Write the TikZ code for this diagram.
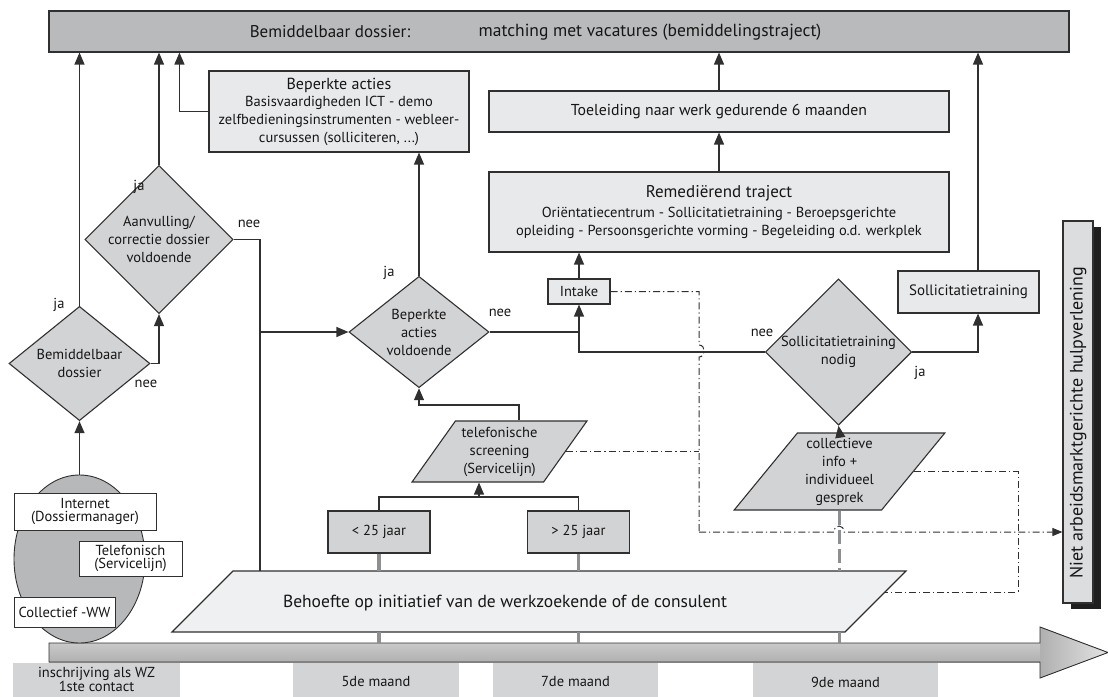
\documentclass[tikz,border=0pt]{standalone}
\usepackage{fontspec}
\setmainfont{PT Sans}
\usetikzlibrary{positioning,arrows.meta,shapes.geometric,shadows}

\definecolor{linecol}{HTML}{303030}
\definecolor{textcol}{HTML}{161616}
\definecolor{barfill}{HTML}{B9BABC}
\definecolor{lightfill}{HTML}{E8E9EB}
\definecolor{midfill}{HTML}{D2D3D5}
\definecolor{palefill}{HTML}{EFF0F1}
\definecolor{ellfill}{HTML}{B7B8BA}
\definecolor{monthfill}{HTML}{D3D4D6}
\definecolor{nietfill}{HTML}{DCDDDF}
\definecolor{tickcol}{HTML}{8E8F91}

\begin{document}
\begin{tikzpicture}[
  x=1pt, y=-1pt,
  font=\fontsize{14.5}{18}\selectfont,
  every node/.style={text=textcol},
  >={Triangle[width=10pt,length=12pt]},
  flow/.style={draw=linecol, line width=1.2pt},
  flowarrow/.style={->, draw=linecol, line width=1.2pt},
  dashdot/.style={draw=linecol, line width=1pt, dash pattern=on 7pt off 3pt on 1.2pt off 3pt},
  tickbar/.style={draw=tickcol, line width=3.2pt},
  decision/.style={diamond, draw=linecol, line width=1.1pt, fill=midfill, inner sep=0pt, align=center, minimum width=141pt, minimum height=111pt},
  lightbox/.style={rectangle, draw=linecol, line width=1.1pt, fill=lightfill, align=center, inner sep=0pt},
  agebox/.style={rectangle, draw=linecol, line width=1.1pt, fill=midfill, minimum width=102pt, minimum height=42pt, inner sep=0pt},
  whitebox/.style={rectangle, draw=linecol, line width=1pt, fill=white, align=center, inner sep=0pt, font=\fontsize{14.5}{13}\selectfont},
  slantbox/.style={trapezium, trapezium stretches=true, draw=linecol, line width=1.1pt, fill=midfill, inner sep=0pt, align=center},
  monthbox/.style={rectangle, fill=monthfill, minimum height=38pt, inner sep=0pt, align=center, font=\fontsize{14.5}{14}\selectfont},
  answer/.style={inner sep=0pt}
]
  \useasboundingbox (0,0) rectangle (1108,696);
  \clip (0,0) rectangle (1108,696);

  % time axis
  \fill[top color=gray!42, bottom color=gray!62] (49,643) -- (1040,643) -- (1040,662) -- (49,662) -- cycle;
  \fill[left color=gray!62, right color=gray!22] (1040,627) -- (1108,652.5) -- (1040,678) -- cycle;
  \draw[linecol, line width=0.9pt] (49,643) -- (1040,643) -- (1040,627) -- (1108,652.5) -- (1040,678) -- (1040,662) -- (49,662) -- cycle;
  \coordinate (tltop) at (0,643);

  \node[monthbox, minimum width=167pt] (m0) at (96.5,682) {};
  \node (m0txt) at (96.5,679) [align=center, inner sep=0pt, font=\fontsize{14.5}{14}\selectfont] {inschrijving als WZ\\1ste contact};
  \node[monthbox, minimum width=166pt] (m5) at (376,682) {5de maand};
  \node[monthbox, minimum width=165pt] (m7) at (575.5,682) {7de maand};
  \node[monthbox, minimum width=185pt] (m9) at (845.5,682) {9de maand};

  % top bar
  \node[rectangle, draw=linecol, line width=1.1pt, fill=barfill, minimum width=1020pt, minimum height=41pt] (bar) at (559,31.5) {};
  \node[font=\fontsize{17}{18}\selectfont] (bartxtA) at (330,32) {Bemiddelbaar dossier:};
  \node[font=\fontsize{17.5}{18}\selectfont] (bartxtB) at (650,32) {matching met vacatures (bemiddelingstraject)};

  % boxes
  \node[lightbox, minimum width=260pt, minimum height=81pt] (bepbox) at (339,111.5)
    {{\fontsize{16}{18}\selectfont Beperkte acties}\\[-1pt]Basisvaardigheden ICT - demo\\zelfbedieningsinstrumenten - webleer-\\cursussen (solliciteren, ...)};
  \node[lightbox, font=\fontsize{15.8}{18}\selectfont, minimum width=460pt, minimum height=41pt] (toel) at (719,111.5) {Toeleiding naar werk gedurende 6 maanden};
  \node[lightbox, minimum width=460pt, minimum height=80pt] (remed) at (719,212)
    {{\fontsize{17}{18}\selectfont Remediërend traject}\\[2pt]Oriëntatiecentrum - Sollicitatietraining - Beroepsgerichte\\opleiding - Persoonsgerichte vorming - Begeleiding o.d. werkplek};
  \node[lightbox, minimum width=62pt, minimum height=25pt] (intake) at (579,291.5) {Intake};
  \node[lightbox, minimum width=141pt, minimum height=42pt, font=\fontsize{15}{18}\selectfont] (sollbox) at (968.5,292) {Sollicitatietraining};

  % decisions
  \node[decision] (bem) at (79.5,363.5) {Bemiddelbaar\\dossier};
  \node[decision, minimum width=142pt] (aanv) at (159,239.5) {Aanvulling/\\correctie dossier\\voldoende};
  \node[decision, minimum width=140pt] (bep) at (419,332) {Beperkte\\acties\\voldoende};
  \node[decision, minimum height=112pt] (solld) at (838.5,352) {Sollicitatietraining\\nodig};

  % inflow
  \node[ellipse, draw=linecol, line width=0.9pt, fill=ellfill, minimum width=131pt, minimum height=168pt] (ell) at (79.5,559) {};
  \node[whitebox, minimum width=142pt, minimum height=37pt] (internet) at (85,511.5) {Internet\\(Dossiermanager)};
  \node[whitebox, minimum width=103pt, minimum height=35pt] (telef) at (130.5,558.5) {Telefonisch\\(Servicelijn)};
  \node[whitebox, minimum width=101pt, minimum height=30pt] (collww) at (64.5,612) {Collectief -WW};

  % screening
  \node[slantbox, trapezium left angle=53, trapezium right angle=127, minimum width=175pt, minimum height=61pt] (tel) at (499.5,451.5) {telefonische\\screening\\(Servicelijn)};
  \node[agebox] (lt25) at (379,532) {< 25 jaar};
  \node[agebox] (gt25) at (578.5,532) {> 25 jaar};
  \node[slantbox, trapezium left angle=52.5, trapezium right angle=127.5, minimum width=211pt, minimum height=77pt] (coll) at (839.5,471.5) {collectieve\\info +\\individueel\\gesprek};

  % need-based band
  \draw[linecol, line width=1.1pt, fill=palefill] (233,571) -- (906,571) -- (845,632) -- (172,632) -- cycle;
  \coordinate (behtop) at (0,571);
  \coordinate (behbot) at (0,632);
  \coordinate (behright) at (885,592);
  \node[font=\fontsize{17.5}{18}\selectfont] (behoefte) at (505,603) {Behoefte op initiatief van de werkzoekende of de consulent};

  % side bar
  \node[rectangle, draw=linecol, line width=1.1pt, fill=nietfill, minimum width=30pt, minimum height=382pt,
    drop shadow={shadow xshift=8pt, shadow yshift=-6pt, fill=black!88, opacity=1}] (niet) at (1078,412) {};
  \node[rotate=90, font=\fontsize{18}{18}\selectfont] (niettxt) at (1078,423) {Niet arbeidsmarktgerichte hulpverlening};

  % answers
  \node[answer] (jaA) at (59,305) {ja};
  \node[answer] (neeA) at (146,384) {nee};
  \node[answer] (jaB) at (139,187) {ja};
  \node[answer] (neeB) at (249,224) {nee};
  \node[answer] (jaC) at (389,273) {ja};
  \node[answer] (neeC) at (500,313) {nee};
  \node[answer] (neeD) at (762,333) {nee};
  \node[answer] (jaD) at (920,373) {ja};

  % connectors
  \draw[flowarrow] (ell.north) -- (bem.south);
  \draw[flowarrow] (bem.north) -- (bem.north |- bar.south);
  \draw[flowarrow] (bem.east) -| (aanv.south);
  \draw[flowarrow] (aanv.north) -- (aanv.north |- bar.south);
  \coordinate (split) at (260,332);
  \draw[flow] (aanv.east) -| (split) -- (split |- behtop);
  \draw[flowarrow] (split) -- (bep.west);
  \coordinate (bepcorner) at ([xshift=-29pt]bepbox.west);
  \draw[flowarrow] (bepbox.west) -- (bepcorner) -- (bepcorner |- bar.south);
  \draw[flowarrow] (bep.north) -- (bep.north |- bepbox.south);
  \draw[flow] (bep.east) -- (bep.east -| intake.south);
  \draw[flowarrow] (solld.west) -| (intake.south);
  \draw[flowarrow] (intake.north) -- (intake.north |- remed.south);
  \draw[flowarrow] (remed.north) -- (toel.south);
  \draw[flowarrow] (toel.north) -- (toel.north |- bar.south);
  \coordinate (sollup) at ([xshift=9.5pt]sollbox.south);
  \draw[flowarrow] (solld.east) -| (sollup);
  \draw[flowarrow] (sollup |- sollbox.north) -- (sollup |- bar.south);
  \draw[flowarrow] (coll.north) -- (solld.south);
  \coordinate (agejoin) at (479,497);
  \draw[flow] (lt25.north) |- (agejoin) -| (gt25.north);
  \draw[flowarrow] (agejoin) -- (agejoin |- tel.south);
  \coordinate (telbend) at (519,405);
  \draw[flowarrow] (telbend |- tel.north) -- (telbend) -| (bep.south);

  % ticks to the time axis
  \draw[tickbar] (lt25.south) -- (lt25.south |- behtop);
  \draw[tickbar] (lt25.south |- behbot) -- (lt25.south |- tltop);
  \draw[tickbar] (gt25.south) -- (gt25.south |- behtop);
  \draw[tickbar] (gt25.south |- behbot) -- (gt25.south |- tltop);
  \draw[tickbar, dash pattern=on 14pt off 5pt] (coll.south) -- (coll.south |- behtop);
  \draw[tickbar] (coll.south |- behbot) -- (coll.south |- tltop);

  % dash-dot lines to the side bar
  \coordinate (ddbot) at (699,532);
  \draw[dashdot] (intake.east) -- (intake.east -| ddbot) -- (699,345) .. controls (706,345) and (706,357) .. (699,357) -- (ddbot);
  \draw[dashdot] (tel.east) -- (tel.east -| ddbot);
  \draw[dashdot, -{Triangle[width=8pt,length=10pt]}] (ddbot) -- (834,532) .. controls (834,524) and (844,524) .. (844,532) -- (ddbot -| niet.west);
  \coordinate (collbend) at (1018,592);
  \draw[dashdot] (coll.east) -| (collbend) -- (behright);
\end{tikzpicture}
\end{document}
